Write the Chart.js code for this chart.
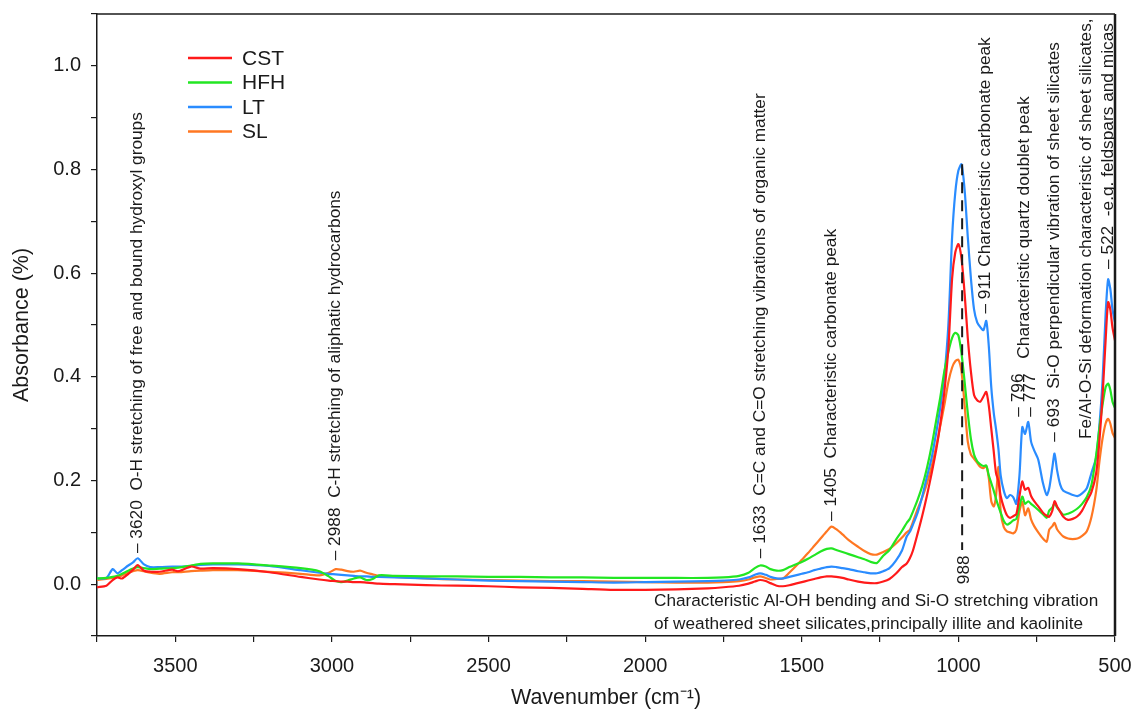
<!DOCTYPE html>
<html>
<head>
<meta charset="utf-8">
<script src="https://cdn.jsdelivr.net/npm/chart.js@4.4.1/dist/chart.umd.min.js"></script>
<style>
    html, body { margin: 0; padding: 0; background: #fff; }
    #wrap { width: 1133px; height: 711px; }
</style>
</head>
<body>
<div id="wrap"><canvas id="ftirChart" width="1133" height="711"></canvas></div>
<script>
// wavenumber grid (cm-1) shared by all four spectra
var wavenumbers = [3750, 3720, 3700, 3685, 3670, 3650, 3635, 3620, 3600, 3580, 3550, 3510, 3490, 3450, 3420, 3380, 3300, 3200, 3100, 3040,
    3010, 2988, 2970, 2950, 2930, 2910, 2890, 2870, 2850, 2800, 2700, 2600, 2500, 2400, 2300, 2200, 2100, 2000, 1900, 1800,
    1750, 1700, 1670, 1650, 1633, 1615, 1600, 1580, 1560, 1540, 1520, 1500, 1480, 1460, 1440, 1420, 1405, 1390, 1370, 1350,
    1320, 1300, 1280, 1260, 1240, 1220, 1200, 1180, 1165, 1155, 1145, 1130, 1115, 1100, 1085, 1070, 1058, 1045, 1032, 1020,
    1010, 1000, 990, 980, 970, 960, 950, 940, 930, 920, 911, 903, 895, 887, 880, 872, 865, 855, 845, 835,
    825, 815, 805, 796, 787, 777, 768, 758, 745, 730, 718, 710, 700, 693, 685, 675, 665, 650, 635, 620,
    605, 590, 575, 560, 550, 540, 530, 522, 515, 508, 500];

var cstValues = [-0.006, -0.003, 0.008, 0.013, 0.011, 0.020, 0.028, 0.037, 0.026, 0.024, 0.024, 0.028, 0.025, 0.034, 0.030, 0.031, 0.029, 0.023, 0.014, 0.009,
    0.007, 0.006, 0.005, 0.005, 0.004, 0.004, 0.003, 0.002, 0.001, 0.000, -0.002, -0.003, -0.004, -0.006, -0.007, -0.009, -0.011, -0.011, -0.010, -0.008,
    -0.006, -0.003, 0.001, 0.005, 0.008, 0.006, 0.002, -0.003, -0.004, -0.002, 0.001, 0.004, 0.007, 0.010, 0.013, 0.015, 0.015, 0.014, 0.012, 0.009,
    0.005, 0.003, 0.002, 0.002, 0.005, 0.010, 0.020, 0.033, 0.040, 0.050, 0.065, 0.098, 0.133, 0.172, 0.215, 0.262, 0.308, 0.370, 0.455, 0.590,
    0.640, 0.656, 0.628, 0.560, 0.475, 0.410, 0.365, 0.355, 0.352, 0.362, 0.371, 0.345, 0.300, 0.255, 0.215, 0.198, 0.170, 0.148, 0.133, 0.128,
    0.131, 0.135, 0.170, 0.198, 0.182, 0.186, 0.170, 0.160, 0.150, 0.138, 0.132, 0.130, 0.142, 0.160, 0.150, 0.140, 0.130, 0.124, 0.126, 0.131,
    0.142, 0.160, 0.178, 0.215, 0.275, 0.360, 0.470, 0.544, 0.530, 0.495, 0.470];

var hfhValues = [0.011, 0.012, 0.014, 0.016, 0.020, 0.026, 0.030, 0.033, 0.031, 0.029, 0.030, 0.031, 0.032, 0.036, 0.039, 0.040, 0.040, 0.036, 0.031, 0.025,
    0.015, 0.006, 0.004, 0.007, 0.011, 0.013, 0.008, 0.010, 0.017, 0.016, 0.015, 0.015, 0.014, 0.014, 0.013, 0.013, 0.012, 0.012, 0.012, 0.012,
    0.013, 0.016, 0.022, 0.031, 0.036, 0.034, 0.029, 0.026, 0.027, 0.033, 0.038, 0.043, 0.049, 0.056, 0.063, 0.068, 0.069, 0.066, 0.062, 0.058,
    0.052, 0.048, 0.043, 0.041, 0.055, 0.066, 0.085, 0.103, 0.118, 0.126, 0.140, 0.163, 0.190, 0.225, 0.268, 0.319, 0.360, 0.410, 0.448, 0.475,
    0.485, 0.480, 0.445, 0.390, 0.330, 0.280, 0.250, 0.237, 0.231, 0.228, 0.229, 0.210, 0.195, 0.180, 0.165, 0.150, 0.138, 0.122, 0.115, 0.118,
    0.123, 0.126, 0.150, 0.169, 0.155, 0.160, 0.155, 0.150, 0.143, 0.135, 0.128, 0.142, 0.148, 0.156, 0.148, 0.140, 0.134, 0.136, 0.140, 0.146,
    0.155, 0.168, 0.192, 0.250, 0.300, 0.345, 0.380, 0.387, 0.375, 0.352, 0.340];

var ltValues = [0.011, 0.012, 0.029, 0.021, 0.027, 0.036, 0.042, 0.050, 0.038, 0.033, 0.033, 0.034, 0.034, 0.035, 0.037, 0.038, 0.038, 0.035, 0.027, 0.022,
    0.020, 0.019, 0.018, 0.017, 0.016, 0.015, 0.015, 0.014, 0.014, 0.013, 0.011, 0.009, 0.007, 0.006, 0.005, 0.004, 0.003, 0.004, 0.005, 0.006,
    0.007, 0.009, 0.013, 0.018, 0.021, 0.018, 0.014, 0.011, 0.011, 0.014, 0.017, 0.020, 0.023, 0.027, 0.030, 0.033, 0.034, 0.033, 0.031, 0.029,
    0.025, 0.023, 0.021, 0.021, 0.025, 0.031, 0.045, 0.065, 0.092, 0.101, 0.115, 0.138, 0.170, 0.208, 0.245, 0.295, 0.340, 0.400, 0.500, 0.670,
    0.755, 0.798, 0.810, 0.760, 0.670, 0.590, 0.530, 0.505, 0.496, 0.490, 0.508, 0.460, 0.380, 0.330, 0.300, 0.260, 0.210, 0.180, 0.166, 0.172,
    0.168, 0.155, 0.210, 0.303, 0.290, 0.313, 0.275, 0.258, 0.240, 0.195, 0.172, 0.185, 0.225, 0.252, 0.220, 0.192, 0.180, 0.176, 0.172, 0.170,
    0.175, 0.185, 0.215, 0.245, 0.305, 0.390, 0.520, 0.588, 0.570, 0.530, 0.505];

var slValues = [0.008, 0.010, 0.012, 0.014, 0.017, 0.022, 0.025, 0.027, 0.025, 0.022, 0.020, 0.023, 0.023, 0.025, 0.026, 0.027, 0.027, 0.024, 0.020, 0.017,
    0.022, 0.029, 0.028, 0.025, 0.024, 0.026, 0.022, 0.019, 0.016, 0.014, 0.011, 0.009, 0.008, 0.007, 0.006, 0.006, 0.005, 0.004, 0.003, 0.003,
    0.004, 0.006, 0.009, 0.013, 0.015, 0.012, 0.009, 0.010, 0.011, 0.022, 0.034, 0.047, 0.060, 0.074, 0.088, 0.102, 0.111, 0.106, 0.096, 0.085,
    0.072, 0.064, 0.058, 0.057, 0.062, 0.068, 0.078, 0.090, 0.100, 0.105, 0.120, 0.145, 0.168, 0.195, 0.228, 0.268, 0.305, 0.345, 0.390, 0.418,
    0.430, 0.433, 0.410, 0.345, 0.275, 0.250, 0.242, 0.234, 0.226, 0.224, 0.228, 0.205, 0.160, 0.150, 0.170, 0.226, 0.140, 0.110, 0.102, 0.100,
    0.098, 0.105, 0.140, 0.159, 0.133, 0.146, 0.125, 0.112, 0.100, 0.088, 0.082, 0.105, 0.112, 0.118, 0.106, 0.098, 0.092, 0.088, 0.087, 0.088,
    0.093, 0.102, 0.130, 0.180, 0.235, 0.280, 0.310, 0.319, 0.310, 0.292, 0.282];

var seriesNames = ["CST", "HFH", "LT", "SL"];
var seriesColors = ["#ff1a1a", "#22e622", "#2a8cff", "#ff7722"];

var xMajorTicks = [3500, 3000, 2500, 2000, 1500, 1000, 500];
var yMajorTicks = [0.0, 0.2, 0.4, 0.6, 0.8, 1.0];

// rotated peak labels: wn = where the dash sits, at = absorbance of the dash
var peakNotes = [
    { wn: 3620, at: 0.060, text: "\u2013 3620  O-H stretching of free and bound hydroxyl groups" },
    { wn: 2988, at: 0.046, text: "\u2013 2988  C-H stretching of aliphatic hydrocarbons" },
    { wn: 1633, at: 0.050, text: "\u2013 1633  C=C and C=O stretching vibrations of organic matter" },
    { wn: 1405, at: 0.122, text: "\u2013 1405  Characteristic carbonate peak" },
    { wn: 913, at: 0.522, text: "\u2013 911 Characteristic carbonate peak" },
    { wn: 808, at: 0.323, text: "\u2013 796" },
    { wn: 770, at: 0.323, text: "\u2013 777" },
    { wn: 790, at: 0.435, text: "Characteristic quartz doublet peak" },
    { wn: 695, at: 0.275, text: "\u2013 693  Si-O perpendicular vibration of sheet silicates" },
    { wn: 593, at: 0.280, text: "Fe/Al-O-Si deformation characteristic of sheet silicates," },
    { wn: 522, at: 0.608, text: "\u2013 522  -e.g. feldspars and micas" }
];
var bandNote = ["Characteristic Al-OH bending and Si-O stretching vibration",
    "of weathered sheet silicates,principally illite and kaolinite"];

var fontName = "'Liberation Sans', Arial, sans-serif";
var inkColor = "#1a1a1a";

function toPoints(values) {
    var pts = [];
    for (var i = 0; i < wavenumbers.length; i++) {
        pts.push({ x: wavenumbers[i], y: values[i] });
    }
    return pts;
}

var allValues = [cstValues, hfhValues, ltValues, slValues];
var datasets = [];
for (var i = 0; i < seriesNames.length; i++) {
    datasets.push({
        label: seriesNames[i],
        data: toPoints(allValues[i]),
        borderColor: seriesColors[i],
        backgroundColor: seriesColors[i],
        borderWidth: 2.2,
        pointRadius: 0,
        tension: 0.25,
        fill: false
    });
}

// box around the plot
var framePlugin = {
    id: 'frame',
    afterDraw: function (chart) {
        var a = chart.chartArea, ctx = chart.ctx;
        ctx.save();
        ctx.strokeStyle = inkColor;
        ctx.lineWidth = 1.5;
        ctx.beginPath();
        ctx.moveTo(a.left, a.top);
        ctx.lineTo(a.right, a.top);
        ctx.stroke();
        ctx.lineWidth = 2.5;
        ctx.beginPath();
        ctx.moveTo(a.right, a.top);
        ctx.lineTo(a.right, a.bottom);
        ctx.stroke();
        ctx.restore();
    }
};

var legendPlugin = {
    id: 'cornerLegend',
    afterDraw: function (chart) {
        var ctx = chart.ctx;
        ctx.save();
        ctx.font = "21px " + fontName;
        ctx.textBaseline = "middle";
        for (var i = 0; i < seriesNames.length; i++) {
            var y = 58 + i * 24.5;
            ctx.strokeStyle = seriesColors[i];
            ctx.lineWidth = 2.5;
            ctx.beginPath();
            ctx.moveTo(188, y);
            ctx.lineTo(232, y);
            ctx.stroke();
            ctx.fillStyle = inkColor;
            ctx.fillText(seriesNames[i], 242, y + 1);
        }
        ctx.restore();
    }
};

var notesPlugin = {
    id: 'peakNotes',
    afterDatasetsDraw: function (chart) {
        var ctx = chart.ctx, xs = chart.scales.x, ys = chart.scales.y;
        ctx.save();
        ctx.fillStyle = inkColor;
        ctx.font = "17.3px " + fontName;
        ctx.textBaseline = "middle";
        ctx.textAlign = "left";
        peakNotes.forEach(function (n) {
            var px = xs.getPixelForValue(n.wn);
            var py = ys.getPixelForValue(n.at);
            ctx.save();
            ctx.translate(px, py);
            ctx.rotate(-Math.PI / 2);
            ctx.fillText(n.text, 0, 0);
            ctx.restore();
        });

        // dashed marker at 988
        var dx = xs.getPixelForValue(988);
        ctx.strokeStyle = inkColor;
        ctx.lineWidth = 2;
        ctx.setLineDash([11, 7]);
        ctx.beginPath();
        ctx.moveTo(dx, ys.getPixelForValue(0.81));
        ctx.lineTo(dx, ys.getPixelForValue(0.066));
        ctx.stroke();
        ctx.setLineDash([]);
        ctx.save();
        ctx.translate(dx + 2, ys.getPixelForValue(0.0));
        ctx.rotate(-Math.PI / 2);
        ctx.fillText("988", 0, 0);
        ctx.restore();

        ctx.font = "17.2px " + fontName;
        ctx.fillText(bandNote[0], 654, 601);
        ctx.fillText(bandNote[1], 654, 624);
        ctx.restore();
    }
};

var ftirChart = new Chart("ftirChart", {
    type: "line",
    data: { datasets: datasets },
    options: {
        responsive: false,
        animation: false,
        layout: { padding: { left: 0, right: 18, top: 14, bottom: 0 } },
        plugins: {
            legend: { display: false },
            tooltip: { enabled: false }
        },
        scales: {
            x: {
                type: "linear",
                reverse: true,
                min: 500,
                max: 3750,
                afterBuildTicks: function (scale) {
                    var t = [];
                    for (var v = 500; v <= 3750; v += 250) t.push({ value: v });
                    scale.ticks = t;
                },
                afterFit: function (scale) {
                    scale.height = 75;
                    scale.paddingLeft = 0;
                    scale.paddingRight = 0;
                },
                ticks: {
                    autoSkip: false,
                    maxRotation: 0,
                    padding: 12,
                    color: inkColor,
                    font: { size: 20, family: fontName },
                    callback: function (v) { return xMajorTicks.indexOf(v) >= 0 ? String(v) : ""; }
                },
                grid: { drawOnChartArea: false, tickLength: 6, color: inkColor, lineWidth: 1.2 },
                border: { color: inkColor, width: 1.5 },
                title: {
                    display: true,
                    text: "Wavenumber (cm\u207B\u00B9)",
                    color: inkColor,
                    font: { size: 21.5, family: fontName },
                    padding: { top: 0, bottom: 0 }
                }
            },
            y: {
                min: -0.1,
                max: 1.1,
                afterBuildTicks: function (scale) {
                    var t = [];
                    for (var k = -1; k <= 11; k++) t.push({ value: k / 10 });
                    scale.ticks = t;
                },
                afterFit: function (scale) {
                    scale.width = 97;
                    scale.paddingTop = 0;
                    scale.paddingBottom = 0;
                },
                ticks: {
                    padding: 10,
                    color: inkColor,
                    font: { size: 20, family: fontName },
                    callback: function (v) {
                        var k = Math.round(v * 10);
                        return (k >= 0 && k % 2 === 0 && k <= 10) ? (k / 10).toFixed(1) : "";
                    }
                },
                grid: { drawOnChartArea: false, tickLength: 6, color: inkColor, lineWidth: 1.2 },
                border: { color: inkColor, width: 1.5 },
                title: {
                    display: true,
                    text: "Absorbance (%)",
                    color: inkColor,
                    font: { size: 21.5, family: fontName },
                    padding: { top: 9, bottom: 0 }
                }
            }
        }
    },
    plugins: [framePlugin, legendPlugin, notesPlugin]
});
</script>
</body>
</html>
